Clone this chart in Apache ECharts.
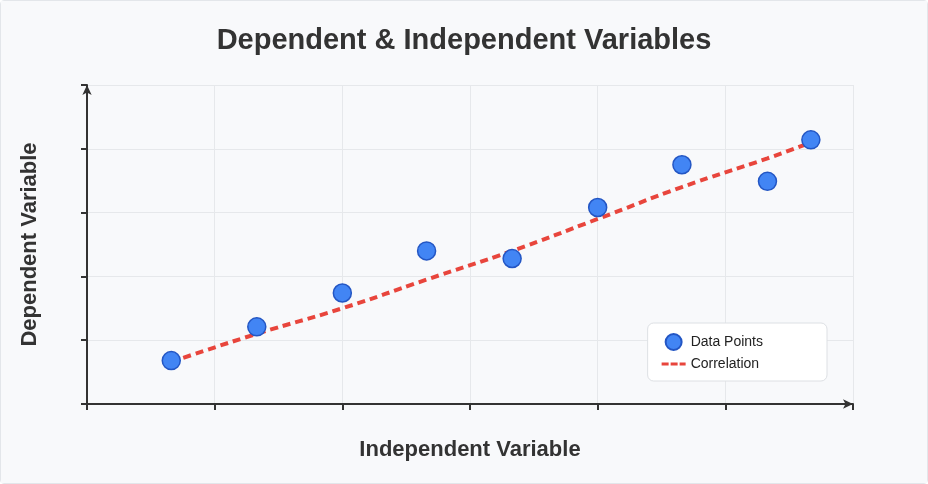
<!DOCTYPE html>
<html>
<head>
<meta charset="utf-8">
<script src="https://cdn.jsdelivr.net/npm/echarts@6/dist/echarts.min.js"></script>
<style>
  html, body { margin: 0; padding: 0; background: #fff; }
  #main { width: 926px; height: 482px; border: 1px solid #e3e6ea; border-radius: 4px; background: #f8f9fb; }
</style>
</head>
<body>
<div id="main"></div>
<script>
// data
var xValues = [0.66, 1.33, 2.0, 2.66, 3.33, 4.0, 4.66, 5.33, 5.67];
var yValues = [0.68, 1.21, 1.74, 2.40, 2.28, 3.08, 3.75, 3.49, 4.14];
var trendValues = [0.66, 1.1, 1.5, 1.95, 2.4, 2.9, 3.4, 3.85, 4.1];

var points = xValues.map(function (x, i) { return [x, yValues[i]]; });
var trend = xValues.map(function (x, i) { return [x, trendValues[i]]; });

var chart = echarts.init(document.getElementById('main'));
var axisLineStyle = { color: '#333', width: 2 };

chart.setOption({
    backgroundColor: '#f8f9fb',
    textStyle: { fontFamily: 'Liberation Sans, Arial, sans-serif' },
    title: {
        text: 'Dependent & Independent Variables',
        left: 'center',
        top: 20,
        textStyle: { fontSize: 29, fontWeight: 'bold', color: '#333' }
    },
    grid: { left: 86, right: 74, top: 84, bottom: 79 },
    xAxis: {
        type: 'value', min: 0, max: 6, interval: 1,
        name: 'Independent Variable', nameLocation: 'middle', nameGap: 35,
        nameTextStyle: { fontSize: 22, fontWeight: 'bold', color: '#333' },
        axisLine: { lineStyle: axisLineStyle, symbol: ['none', 'arrow'], symbolSize: [7, 10] },
        axisTick: { show: true, length: 6, lineStyle: axisLineStyle },
        axisLabel: { show: false },
        splitLine: { lineStyle: { color: '#e6e8eb' } }
    },
    yAxis: {
        type: 'value', min: 0, max: 5, interval: 1,
        name: 'Dependent Variable', nameLocation: 'middle', nameGap: 46,
        nameTextStyle: { fontSize: 22, fontWeight: 'bold', color: '#333' },
        axisLine: { show: true, lineStyle: axisLineStyle, symbol: ['none', 'arrow'], symbolSize: [7, 10] },
        axisTick: { show: true, length: 6, lineStyle: axisLineStyle },
        axisLabel: { show: false },
        splitLine: { lineStyle: { color: '#e6e8eb' } }
    },
    legend: {
        right: 100, top: 322,
        orient: 'vertical',
        backgroundColor: '#fff', borderColor: '#dde0e4', borderWidth: 1, borderRadius: 6,
        padding: [10, 64, 10, 14],
        itemGap: 6,
        itemWidth: 24, itemHeight: 16,
        textStyle: { fontSize: 14, color: '#222' },
        data: [
            { name: 'Data Points', icon: 'circle' },
            { name: 'Correlation', icon: 'path://M0,7h7v3h-7zM9,7h7v3h-7zM18,7h6v3h-6z' }
        ]
    },
    series: [
        {
            name: 'Correlation', type: 'line', data: trend, smooth: true,
            symbol: 'none', z: 1,
            lineStyle: { color: '#e8453c', width: 4, type: [8, 5] },
            itemStyle: { color: '#e8453c' }
        },
        {
            name: 'Data Points', type: 'scatter', data: points, symbolSize: 18, z: 3,
            itemStyle: { color: '#4285f4', opacity: 1, borderColor: '#2356c4', borderWidth: 1.5 }
        }
    ]
});
</script>
</body>
</html>
